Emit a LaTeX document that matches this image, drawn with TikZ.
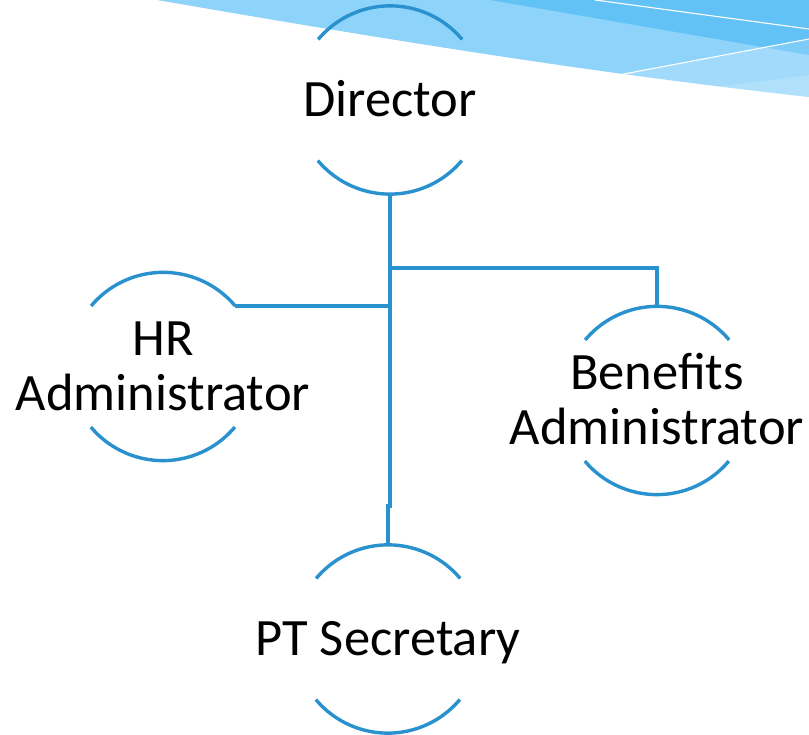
\documentclass[tikz,border=0pt]{standalone}
\usepackage{fontspec}
\setmainfont{Carlito}
\definecolor{orgline}{RGB}{41,145,206}
\definecolor{skymid}{RGB}{98,194,246}
\definecolor{skylight}{RGB}{142,211,249}
\begin{document}
\begin{tikzpicture}[x=1pt,y=1pt,
  role/.style={circle, minimum size=188pt, inner sep=0pt},
  roletext/.style={inner sep=0pt, font=\fontsize{52.5}{55}\selectfont, align=center, text depth=0pt},
  oneline/.style={roletext, text height=33.2pt},
  twoline/.style={roletext, text height=88.2pt},
  rim/.style={draw=orgline, line width=3.4pt},
  link/.style={draw=orgline, line width=3.4pt},
  glint/.style={draw=white, line width=1.1pt},
]
\path[use as bounding box] (0,0) rectangle (809,735);
\begin{scope}
\clip (0,0) rectangle (809,735);
% decorative swoosh
\fill[skylight] (157,735) -- (809,735) -- (809,638) .. controls (590,662) and (374,697.5) .. (157,735) -- cycle;
\fill[skymid] (490,735) -- (809,735) -- (809,680) -- cycle;
\fill[white, fill opacity=0.17] (616,659.5) -- (809,696) -- (809,638) -- (723,647) -- cycle;
\fill[white, fill opacity=0.17] (713,647.5) -- (809,660) -- (809,638) -- cycle;
\draw[glint] (595,735) -- (809,706);
\draw[glint] (616,659.5) -- (809,696);
\end{scope}

% roles
\node[role, label={[oneline]center:Director}] (dir) at (390,635) {};
\node[role, label={[twoline]center:HR\\Administrator}] (hr) at (163,368.5) {};
\node[role, label={[twoline]center:Benefits\\Administrator}] (ben) at (657,334.5) {};
\node[role, label={[oneline]center:PT Secretary}] (pt) at (388,96) {};

\foreach \n in {dir,hr,ben,pt}{
  \draw[rim] (\n.40) arc[start angle=40, end angle=140, radius=94];
  \draw[rim] (\n.220) arc[start angle=220, end angle=320, radius=94];
}

% connectors
\coordinate (jog) at (390,229);
\coordinate (bend) at (657,467);
\draw[link] (dir.south) -- (jog) -- (jog -| pt.north) -- (pt.north);
\draw[link] (hr.40) -- (hr.40 -| dir.south);
\draw[link] (ben.north) -- (bend) -- (bend -| dir.south);
\end{tikzpicture}
\end{document}
